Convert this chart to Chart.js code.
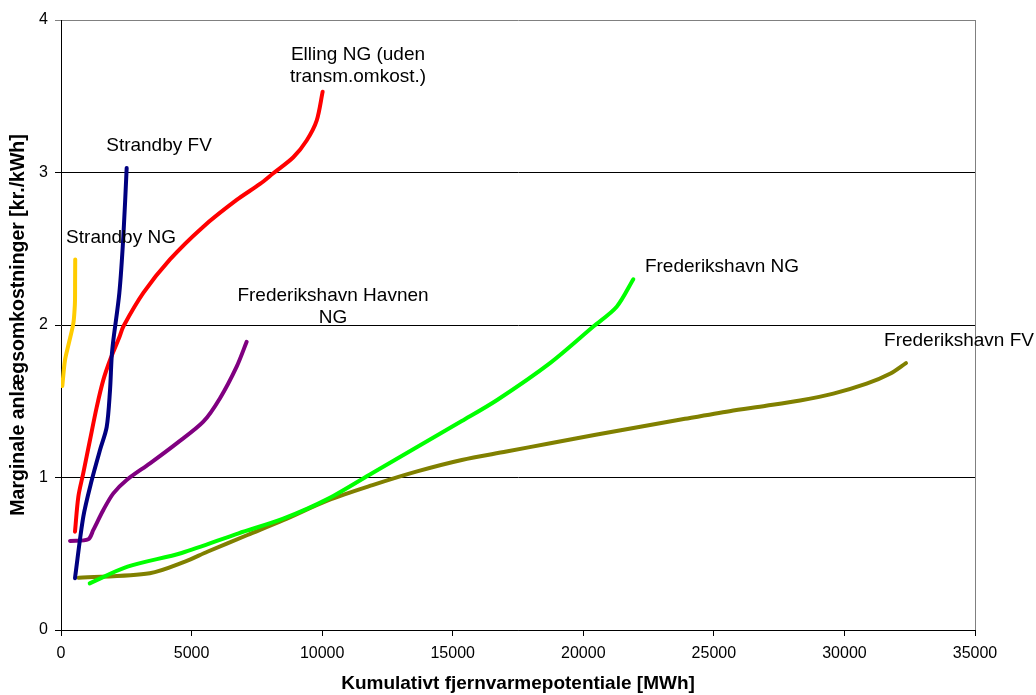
<!DOCTYPE html>
<html>
<head>
<meta charset="utf-8">
<script src="https://cdn.jsdelivr.net/npm/chart.js@4/dist/chart.umd.min.js"></script>
<style>
  body { margin: 0; background: #fff; }
  #wrap { width: 1036px; height: 695px; }
</style>
</head>
<body>
<div id="wrap"><canvas id="chart"></canvas></div>
<script>
// values (x = MWh, y = kr./kWh)
const strandbyNgX = [50, 153, 300, 472, 520, 536, 540, 545];
const strandbyNgY = [1.6, 1.77, 1.88, 2.01, 2.1, 2.16, 2.3, 2.43];

const strandbyFvX = [536, 855, 1174, 1493, 1749, 1876, 1940, 2004, 2234, 2387, 2515];
const strandbyFvY = [0.34, 0.743, 0.98, 1.18, 1.33, 1.57, 1.79, 1.9, 2.21, 2.58, 3.03];

const ellingX = [536, 664, 855, 1110, 1366, 1621, 1900, 2234, 2387, 3152, 4174, 5450, 6727, 7620, 8130, 8896, 9407, 9790, 10020];
const ellingY = [0.645, 0.874, 1.03, 1.246, 1.46, 1.64, 1.78, 1.92, 1.99, 2.21, 2.43, 2.645, 2.82, 2.925, 2.995, 3.1, 3.21, 3.34, 3.53];

const havnenX = [345, 1046, 1238, 1621, 2004, 2515, 3408, 4430, 5450, 6089, 6727, 7110];
const havnenY = [0.584, 0.595, 0.656, 0.787, 0.896, 0.984, 1.093, 1.224, 1.366, 1.52, 1.727, 1.89];

const fhNgX = [1100, 2550, 4620, 6800, 8510, 10220, 11928, 13637, 15347, 16716, 18725, 20384, 21280, 21916];
const fhNgY = [0.306, 0.415, 0.505, 0.634, 0.73, 0.86, 1.03, 1.2, 1.37, 1.51, 1.75, 1.99, 2.12, 2.3];

const fhFvX = [680, 3400, 4748, 5603, 7142, 8510, 10220, 11928, 13637, 15347, 17056, 18740, 20475, 22186, 23895, 25603, 27000, 28300, 29575, 30850, 31744, 32357];
const fhFvY = [0.342, 0.372, 0.448, 0.513, 0.623, 0.72, 0.85, 0.95, 1.04, 1.115, 1.17, 1.225, 1.28, 1.333, 1.385, 1.435, 1.47, 1.505, 1.55, 1.615, 1.68, 1.75];

const seriesNames = ['Strandby NG', 'Strandby FV', 'Elling NG', 'Frederikshavn Havnen NG', 'Frederikshavn NG', 'Frederikshavn FV'];
const seriesColors = ['#FFCC00', '#000080', '#FF0000', '#800080', '#00FF00', '#808000'];

// curve labels: text lines and anchor in data units
const labelTexts = [
  ['Elling NG (uden', 'transm.omkost.)'],
  ['Strandby FV'],
  ['Strandby NG'],
  ['Frederikshavn Havnen', 'NG'],
  ['Frederikshavn NG'],
  ['Frederikshavn FV']
];
const labelX = [11373, 3753, 2298, 10416, 25312, 34388];
const labelY = [3.77, 3.174, 2.57, 2.19, 2.38, 1.895];

function points(xs, ys) {
  return xs.map(function(v, i) { return {x: v, y: ys[i]}; });
}

const allX = [strandbyNgX, strandbyFvX, ellingX, havnenX, fhNgX, fhFvX];
const allY = [strandbyNgY, strandbyFvY, ellingY, havnenY, fhNgY, fhFvY];

const datasets = seriesNames.map(function(name, i) {
  return {
    label: name,
    data: points(allX[i], allY[i]),
    borderColor: seriesColors[i],
    borderWidth: 4,
    borderCapStyle: 'round',
    borderJoinStyle: 'round',
    pointRadius: 0,
    tension: 0.3,
    fill: false
  };
});

const FONT = '"Liberation Sans", Arial, sans-serif';

const curveLabels = {
  id: 'curveLabels',
  afterDraw(chart) {
    const ctx = chart.ctx;
    const xs = chart.scales.x, ys = chart.scales.y;
    const area = chart.chartArea;
    ctx.save();
    // grey frame on right side
    ctx.strokeStyle = '#808080';
    ctx.lineWidth = 1;
    ctx.beginPath();
    ctx.moveTo(area.right + 0.5, area.top);
    ctx.lineTo(area.right + 0.5, area.bottom);
    ctx.stroke();

    ctx.fillStyle = '#000';
    ctx.font = '19px ' + FONT;
    ctx.textAlign = 'center';
    ctx.textBaseline = 'middle';
    labelTexts.forEach(function(lines, i) {
      const px = xs.getPixelForValue(labelX[i]);
      const py = ys.getPixelForValue(labelY[i]);
      lines.forEach(function(t, j) {
        ctx.fillText(t, px, py + j * 22);
      });
    });
    ctx.restore();
  }
};

new Chart(document.getElementById('chart'), {
  type: 'line',
  data: { datasets: datasets },
  options: {
    responsive: true,
    maintainAspectRatio: false,
    animation: false,
    layout: { padding: { left: 0, right: 61, top: 20, bottom: 0 } },
    plugins: {
      legend: { display: false },
      tooltip: { enabled: false }
    },
    scales: {
      x: {
        type: 'linear',
        min: 0,
        max: 35000,
        afterFit(scale) { scale.height = 65; },
        ticks: {
          stepSize: 5000,
          color: '#000',
          font: { family: FONT, size: 16 },
          padding: 8,
          maxRotation: 0,
          callback: function(v) { return String(v); }
        },
        grid: {
          drawOnChartArea: false,
          drawTicks: true,
          tickLength: 6,
          color: '#000'
        },
        border: { color: '#000', width: 1 },
        title: {
          display: true,
          text: 'Kumulativt fjernvarmepotentiale [MWh]',
          color: '#000',
          font: { family: FONT, size: 19, weight: 'bold' },
          padding: { top: 0, bottom: 0 }
        }
      },
      y: {
        min: 0,
        max: 4,
        afterFit(scale) { scale.width = 61; },
        ticks: {
          stepSize: 1,
          color: '#000',
          font: { family: FONT, size: 16 },
          padding: 7
        },
        grid: {
          drawTicks: true,
          tickLength: 6,
          color: function(c) { return c.tick && c.tick.value === 4 ? '#808080' : '#000'; },
          lineWidth: 1
        },
        border: { color: '#000', width: 1 },
        title: {
          display: true,
          text: 'Marginale anlægsomkostninger [kr./kWh]',
          color: '#000',
          font: { family: FONT, size: 19.5, weight: 'bold' },
          padding: { top: 7, bottom: 0 }
        }
      }
    }
  },
  plugins: [curveLabels]
});
</script>
</body>
</html>
